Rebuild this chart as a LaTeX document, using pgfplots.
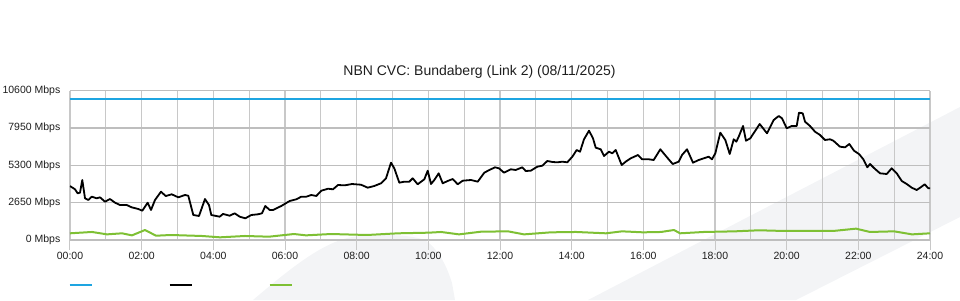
\documentclass[border=0pt]{standalone}
\usepackage{fontspec}
\setmainfont{Liberation Sans}
\usepackage{pgfplots}
\pgfplotsset{compat=1.18}
\definecolor{cblue}{RGB}{30,165,225}
\definecolor{cgreen}{RGB}{126,192,52}
\definecolor{vgridc}{RGB}{200,200,200}
\definecolor{hgridc}{RGB}{190,190,190}
\definecolor{bgs}{RGB}{243,244,246}
\definecolor{txt}{RGB}{30,30,30}
\begin{document}
\begin{tikzpicture}
\path[use as bounding box] (0pt,0pt) rectangle (960pt,300pt);
% faint background watermark shapes
\fill[bgs] (253pt,0pt) .. controls (300pt,40pt) and (330pt,62pt) .. (360pt,64pt) .. controls (390pt,66pt) and (410pt,65pt) .. (425pt,60pt) .. controls (440pt,50pt) and (448pt,30pt) .. (452pt,17pt) -- (455pt,0pt) -- cycle;
\fill[bgs] (588pt,0pt) -- (960pt,193pt) -- (960pt,83pt) -- (796pt,0pt) -- cycle;
\node[anchor=base, font=\fontsize{14}{16}\selectfont, text=txt, inner sep=0pt] at (479.5pt,224pt) {NBN CVC: Bundaberg (Link 2) (08/11/2025)};
\begin{axis}[
  at={(70pt,60pt)}, anchor=south west,
  scale only axis, width=860pt, height=149.3pt,
  xmin=0, xmax=24, ymin=0, ymax=10600,
  scaled y ticks=false, scaled x ticks=false,
  axis line style={draw=none},
  xtick={0,2,...,24},
  xticklabels={00:00,02:00,04:00,06:00,08:00,10:00,12:00,14:00,16:00,18:00,20:00,22:00,24:00},
  minor xtick={1,3,...,23},
  ytick={0,2650,5300,7950,10600},
  yticklabels={0 Mbps,2650 Mbps,5300 Mbps,7950 Mbps,10600 Mbps},
  xmajorgrids, xminorgrids, ymajorgrids,
  major x grid style={draw=vgridc, line width=1.1pt},
  minor x grid style={draw=vgridc, line width=1.1pt},
  major y grid style={draw=hgridc, line width=1.6pt},
  tick align=outside,
  xtick pos=left,
  major tick length=10pt,
  minor tick length=0pt,
  xtick style={draw=vgridc, line width=1pt},
  ytick style={draw=none},
  xticklabel style={font=\fontsize{10.5}{12}\selectfont, text=txt, anchor=north, inner sep=0pt, yshift=-2pt},
  yticklabel style={font=\fontsize{10.5}{12}\selectfont, text=txt, anchor=east, inner sep=0pt, xshift=0.5pt},
]
\addplot[cblue, line width=2pt] coordinates {(0,10000) (24,10000)};
\addplot[black, line width=1.8pt, line join=round] table {
0.000 3830
0.140 3600
0.215 3315
0.279 3360
0.343 4260
0.419 2960
0.511 2840
0.606 3075
0.745 2960
0.837 3030
0.977 2720
1.116 2910
1.256 2650
1.395 2485
1.582 2485
1.722 2320
1.906 2200
2.018 2080
2.168 2650
2.260 2130
2.372 2840
2.540 3430
2.671 3120
2.838 3245
3.022 3030
3.209 3195
3.301 3145
3.441 1775
3.600 1705
3.767 2910
3.879 2485
3.943 1775
4.178 1655
4.270 1850
4.457 1725
4.596 1895
4.736 1655
4.892 1540
5.060 1775
5.247 1825
5.358 1895
5.450 2415
5.573 2130
5.665 2130
5.897 2415
6.131 2770
6.315 2890
6.455 3075
6.595 3075
6.734 3195
6.874 3125
7.013 3500
7.200 3640
7.340 3600
7.479 3905
7.666 3880
7.870 3975
8.121 3925
8.308 3715
8.492 3835
8.679 4025
8.819 4380
8.958 5490
9.050 5090
9.190 4070
9.329 4140
9.469 4140
9.564 4380
9.703 3955
9.888 4310
9.982 4920
10.075 3975
10.167 4260
10.289 4735
10.401 4025
10.540 4190
10.680 4330
10.820 3955
10.959 4210
11.191 4260
11.378 4140
11.562 4780
11.702 4970
11.861 5160
11.972 5090
12.112 4780
12.299 5020
12.438 4970
12.622 5160
12.717 4900
12.857 4920
13.041 5205
13.181 5275
13.320 5610
13.460 5540
13.599 5515
13.739 5560
13.878 5515
14.018 5915
14.141 6390
14.233 6270
14.344 7150
14.484 7760
14.595 7220
14.671 6555
14.810 6440
14.903 5965
15.042 6270
15.134 6155
15.229 6390
15.396 5325
15.508 5560
15.647 5800
15.851 6035
15.963 5730
16.150 5730
16.289 5680
16.474 6440
16.660 5870
16.820 5395
16.987 5560
17.079 6035
17.219 6440
17.386 5490
17.545 5680
17.685 5800
17.824 5915
17.916 5730
18.009 6155
18.148 7620
18.288 7100
18.411 6105
18.522 7150
18.595 6980
18.662 7335
18.782 8095
18.865 7050
18.985 7220
19.125 7760
19.247 8235
19.451 7575
19.638 8520
19.778 8805
19.870 8640
20.001 7930
20.141 8095
20.280 8095
20.344 9040
20.448 8995
20.512 8400
20.651 8095
20.791 7690
20.930 7455
21.070 7100
21.209 7150
21.302 7050
21.488 6625
21.628 6580
21.748 6815
21.879 6340
22.027 6085
22.139 5730
22.250 5160
22.326 5395
22.446 5090
22.605 4735
22.792 4685
22.931 5090
23.071 4735
23.211 4190
23.350 3975
23.490 3715
23.629 3550
23.741 3740
23.852 3955
23.953 3670
24.000 3670
};
\addplot[cgreen, line width=2pt, line join=round] table {
0.000 475
0.614 570
1.033 400
1.451 475
1.730 330
2.093 710
2.400 305
2.819 355
3.684 285
4.186 190
4.884 285
5.554 235
6.251 425
6.586 330
7.284 425
8.288 355
9.154 475
10.019 520
10.354 570
10.856 400
11.470 590
12.223 615
12.670 400
13.423 545
14.121 570
14.958 475
15.405 615
15.991 545
16.493 570
16.856 710
17.023 475
17.693 570
18.558 615
19.228 690
19.926 640
20.596 640
21.293 640
21.935 805
22.326 570
22.996 615
23.498 400
24.000 475
};
\end{axis}
% legend swatches (no text in the reference)
\draw[cblue, line width=2pt] (69.5pt,15pt) -- (91.5pt,15pt);
\draw[black, line width=2pt] (169.5pt,15pt) -- (191.5pt,15pt);
\draw[cgreen, line width=2pt] (269.5pt,15pt) -- (291.5pt,15pt);
\end{tikzpicture}
\end{document}
